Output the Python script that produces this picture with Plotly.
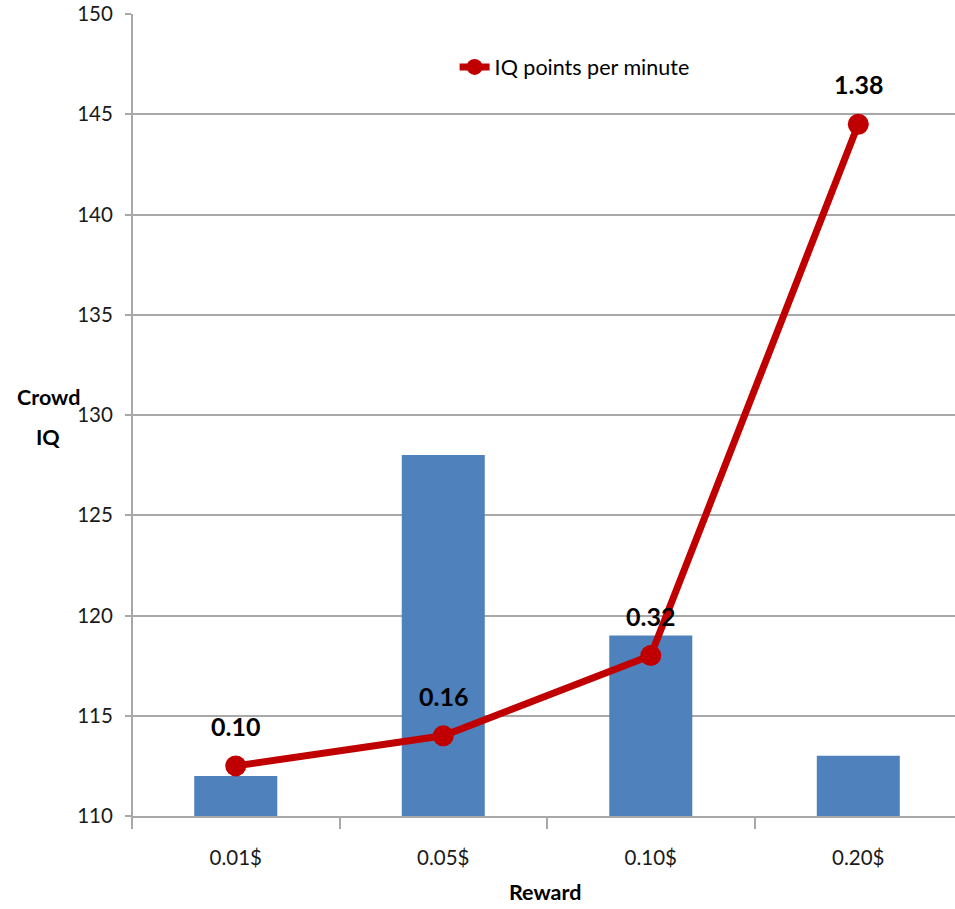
import plotly.graph_objects as go

rewards = ["0.01$", "0.05$", "0.10$", "0.20$"]
crowd_iq = [112, 128, 119, 113]
iq_per_minute = [0.10, 0.16, 0.32, 1.38]
y_ticks = [110, 115, 120, 125, 130, 135, 140, 145, 150]

FONT = "Lato, Open Sans, sans-serif"
GRID = "#A8A8A8"
RED = "#C00000"
BLUE = "#4F81BD"

fig = go.Figure()

fig.add_trace(go.Bar(
    x=rewards, y=crowd_iq, base=0,
    marker=dict(color=BLUE, line=dict(width=0)),
    width=0.4, showlegend=False, yaxis="y",
))

fig.add_trace(go.Scatter(
    x=rewards, y=iq_per_minute, yaxis="y2",
    mode="lines+markers", name="IQ points per minute",
    line=dict(color=RED, width=7),
    marker=dict(color=RED, size=21),
))

for r, v in zip(rewards, iq_per_minute):
    fig.add_annotation(
        x=r, y=v, yref="y2", text=f"<b>{v:.2f}</b>", showarrow=False,
        yshift=40, font=dict(family=FONT, size=25, color="black"),
    )

# axis titles
for label, ypx in (("Crowd", 397), ("IQ", 437)):
    fig.add_annotation(
        xref="paper", yref="paper", x=-0.1015, y=1 - (ypx - 14) / 802,
        xanchor="center", yanchor="middle",
        text=f"<b>{label}</b>", showarrow=False,
        font=dict(family=FONT, size=21.5, color="black"),
    )
fig.add_annotation(
    xref="paper", yref="paper", x=0.502, y=-0.095, xanchor="center", yanchor="middle",
    text="<b>Reward</b>", showarrow=False, borderpad=0,
    font=dict(family=FONT, size=21.5, color="black"),
)

# left axis line running slightly below the baseline
fig.add_shape(type="line", xref="paper", yref="paper", x0=0, x1=0, y0=-0.0125, y1=1,
              line=dict(color=GRID, width=2))

fig.update_layout(
    width=955, height=909,
    margin=dict(l=132, r=0, t=14, b=93),
    paper_bgcolor="white", plot_bgcolor="white",
    font=dict(family=FONT, size=18, color="#1a1a1a"),
    bargap=0.6,
    xaxis=dict(
        type="category", range=[-0.5, 3.466],
        tickson="boundaries", ticks="outside", ticklen=11, tickwidth=1.5, tickcolor=GRID,
        ticklabelstandoff=22,
        showgrid=False, showline=True, linecolor=GRID, linewidth=2,
        tickfont=dict(family=FONT, size=20.5, color="#1a1a1a"),
    ),
    yaxis=dict(
        range=[110, 150], tickvals=y_ticks, ticks="outside", ticklen=6, tickcolor=GRID,
        tickwidth=2, showgrid=True, gridcolor=GRID, gridwidth=2, showline=False,
        ticklabelstandoff=8,
        zeroline=False, tickfont=dict(family=FONT, size=20.5, color="#1a1a1a"),
    ),
    yaxis2=dict(
        range=[0, 1.6], overlaying="y", side="right", visible=False,
        showgrid=False, zeroline=False,
    ),
    legend=dict(
        x=0.392, y=0.934, xanchor="left", yanchor="middle",
        bgcolor="rgba(0,0,0,0)", itemwidth=30,
        font=dict(family=FONT, size=21.5, color="black"),
    ),
)

fig.write_html("out.html")
